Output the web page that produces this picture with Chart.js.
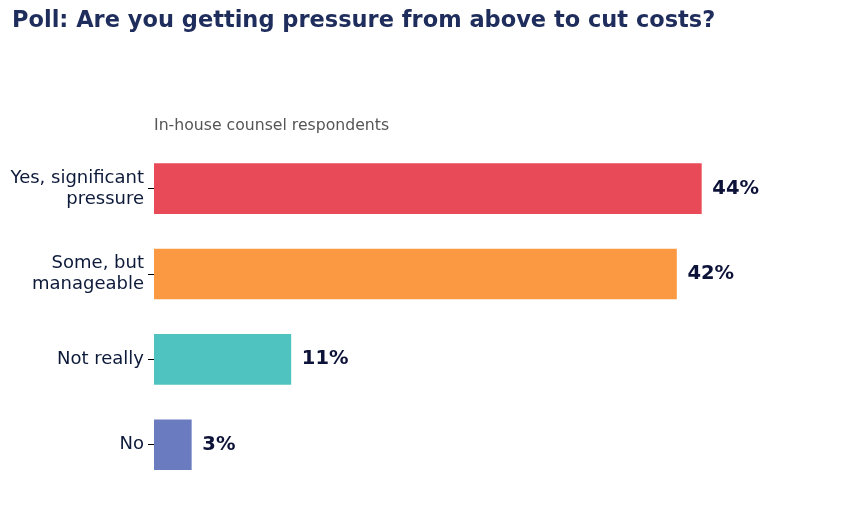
<!DOCTYPE html>
<html>
<head>
<meta charset="utf-8">
<script src="https://cdn.jsdelivr.net/npm/chart.js@4"></script>
<style>
  html, body { margin: 0; padding: 0; background: #fff; }
  #wrap { width: 849px; height: 513px; }
</style>
</head>
<body>
<div id="wrap"><canvas id="c"></canvas></div>
<script>
const categories = [["Yes, significant", "pressure"], ["Some, but", "manageable"], "Not really", "No"];
const values = [44, 42, 11, 3];
const colors = ["#e84a57", "#fa9942", "#4fc3bf", "#6b7bbf"];

const textPlugin = {
  id: "texts",
  afterDraw(chart) {
    const ctx = chart.ctx;
    const area = chart.chartArea;
    ctx.save();
    ctx.textBaseline = "middle";
    ctx.textAlign = "left";
    ctx.fillStyle = "#1f2d5c";
    ctx.font = "bold 22.5px 'DejaVu Sans'";
    ctx.fillText("Poll: Are you getting pressure from above to cut costs?", 12, 21);
    ctx.fillStyle = "#555";
    ctx.font = "15.7px 'DejaVu Sans'";
    ctx.fillText("In-house counsel respondents", area.left, 126);
    ctx.fillStyle = "#0d1238";
    ctx.font = "bold 19.5px 'DejaVu Sans'";
    chart.getDatasetMeta(0).data.forEach((bar, i) => {
      ctx.fillText(values[i] + "%", bar.x + 11, bar.y);
    });
    ctx.restore();
  }
};

new Chart(document.getElementById("c"), {
  type: "bar",
  data: {
    labels: categories,
    datasets: [{ data: values, backgroundColor: colors, barThickness: 50 }]
  },
  options: {
    indexAxis: "y",
    responsive: true,
    maintainAspectRatio: false,
    animation: false,
    layout: { padding: { top: 146, bottom: -17, right: 73 } },
    plugins: { legend: { display: false }, tooltip: { enabled: false } },
    scales: {
      x: { display: false, min: 0, max: 50 },
      y: {
        afterFit(scale) { scale.width = 154; },
        border: { display: false },
        grid: { drawOnChartArea: false, offset: false, tickLength: 6, color: "#000" },
        ticks: { color: "#0d1a3a", font: { size: 18, family: "DejaVu Sans" }, padding: 4 }
      }
    }
  },
  plugins: [textPlugin]
});
</script>
</body>
</html>
